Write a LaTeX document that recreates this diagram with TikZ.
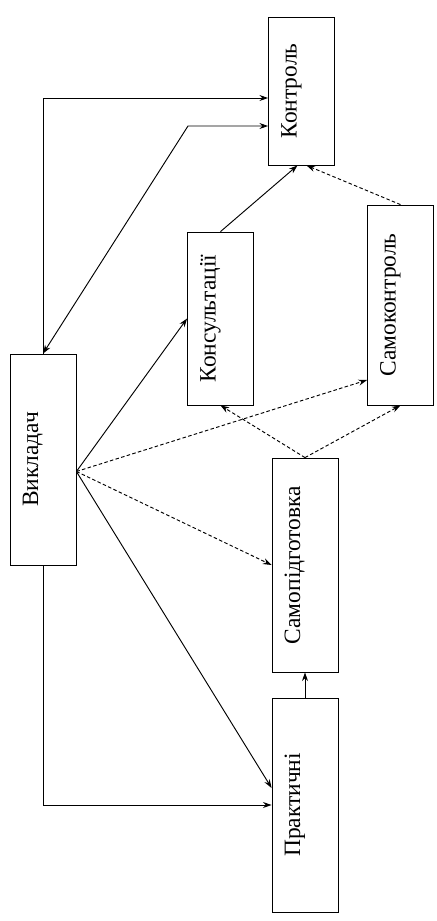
\documentclass[tikz,border=0pt]{standalone}
\usepackage{fontspec}
\setmainfont{Liberation Serif}
\usepackage{tikz}
\usetikzlibrary{calc,arrows.meta}
\newcommand{\boxtext}[1]{\rotatebox{90}{\raisebox{7.6mm}{#1}}}
\tikzset{
  unitbox/.style={draw,line width=0.7pt,minimum width=19.8mm,inner sep=0pt,font=\fontsize{20}{24}\selectfont},
  solidarrow/.style={-{Stealth[length=2.6mm,width=1.8mm]},line width=0.8pt},
  dashedarrow/.style={solidarrow,dash pattern=on 3pt off 2pt}
}

\begin{document}
\begin{tikzpicture}[x=0.3mm,y=-0.3mm]
    \useasboundingbox (0,0) rectangle (437,921);
    \node[unitbox,minimum height=44.4mm] (kontrol) at (301.5,91) {\boxtext{Контроль}};
    \node[unitbox,minimum height=51.9mm] (konsult) at (220.5,318.5) {\boxtext{Консультації}};
    \node[unitbox,minimum height=60mm] (samokontrol) at (400.5,305) {\boxtext{Самоконтроль}};
    \node[unitbox,minimum height=63.3mm] (vykl) at (43,459.5) {\boxtext{Викладач}};
    \node[unitbox,minimum height=64.2mm] (samopidg) at (305,565) {\boxtext{Самопідготовка}};
    \node[unitbox,minimum height=64.2mm] (prakt) at (305,805) {\boxtext{Практичні}};
    \coordinate (bend) at (188,126);
    \coordinate (fan) at ($(vykl.east)+(0,12)$);
    \draw[solidarrow] (vykl.north) |- ($(kontrol.west)+(0,7)$);
    \draw[solidarrow,{Stealth[length=2.6mm,width=1.8mm]}-{Stealth[length=2.6mm,width=1.8mm]}] (vykl.north) -- (bend) -- (bend -| kontrol.west);
    \draw[solidarrow] (vykl.south) |- (prakt.west);
    \draw[solidarrow] (fan) -- (konsult.west);
    \draw[dashedarrow] (fan) -- ($(samokontrol.west)+(0,75)$);
    \draw[dashedarrow] (fan) -- (samopidg.west);
    \draw[solidarrow] (fan) -- ($(prakt.west)+(0,-17)$);
    \draw[solidarrow] (konsult.north) -- ($(kontrol.south)+(-4,0)$);
    \draw[dashedarrow] (samokontrol.north) -- ($(kontrol.south)+(5,0)$);
    \draw[dashedarrow] (samopidg.north) -- (konsult.south);
    \draw[dashedarrow] (samopidg.north) -- (samokontrol.south);
    \draw[solidarrow] (prakt.north) -- (samopidg.south);
\end{tikzpicture}
\end{document}
